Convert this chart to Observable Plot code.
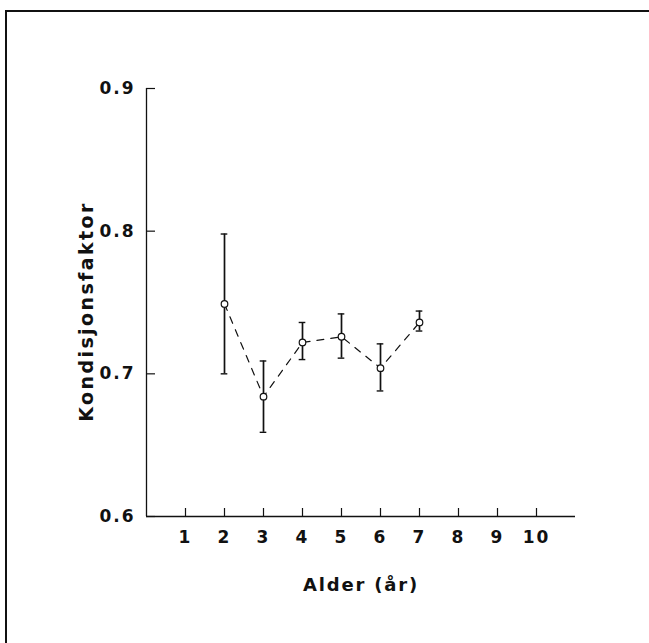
<!DOCTYPE html>
<html>
<head>
<meta charset="utf-8">
<script src="https://cdn.jsdelivr.net/npm/d3@7"></script>
<script src="https://cdn.jsdelivr.net/npm/@observablehq/plot@0.6"></script>
<style>
  html, body { margin: 0; padding: 0; background: #fff; overflow: hidden; }
  body { width: 649px; height: 643px; position: relative; }
  /* page rules on the left and along the top */
  .rule { position: absolute; background: #111; }
  #ruleLeft { left: 5px; top: 10px; width: 2px; height: 640px; }
  #ruleTop  { left: 5px; top: 10px; width: 650px; height: 2px; }
  #chart { position: absolute; left: 0; top: 0; }
</style>
</head>
<body>
<div class="rule" id="ruleLeft"></div>
<div class="rule" id="ruleTop"></div>
<div id="chart"></div>
<script>
// Condition factor by age: mean with error bars
const ages  = [2, 3, 4, 5, 6, 7];
const means = [0.749, 0.684, 0.722, 0.726, 0.704, 0.736];
const lower = [0.700, 0.659, 0.710, 0.711, 0.688, 0.730];
const upper = [0.798, 0.709, 0.736, 0.742, 0.721, 0.744];

const xTicks = [1, 2, 3, 4, 5, 6, 7, 8, 9, 10];
const yTicks = [0.6, 0.7, 0.8, 0.9];
const xLabel = "Alder (år)";
const yLabel = "Kondisjonsfaktor";

const rows = ages.map((age, i) => ({age, mean: means[i], lo: lower[i], hi: upper[i]}));

const W = 649, H = 643;
const mL = 146, mR = 74, mT = 88, mB = 127;
const innerW = W - mL - mR, innerH = H - mT - mB;
const ink = "#111";
const font = "'DejaVu Sans', 'Liberation Sans', sans-serif";
const cap = 0.085; // half width of error-bar caps, in years

const chart = Plot.plot({
  width: W,
  height: H,
  marginLeft: mL,
  marginRight: mR,
  marginTop: mT,
  marginBottom: mB,
  style: {background: "transparent", color: ink, fontFamily: font},
  x: {domain: [0, 11]},
  y: {domain: [0.6, 0.9]},
  marks: [
    // axis lines
    Plot.ruleX([0], {stroke: ink, strokeWidth: 1.3}),
    Plot.ruleY([0.6], {stroke: ink, strokeWidth: 1.3}),
    // inward tick marks
    Plot.tickY(yTicks, {y: d => d, insetRight: innerW - 9, stroke: ink, strokeWidth: 1.2}),
    Plot.tickX(xTicks, {x: d => d, insetTop: innerH - 8, stroke: ink, strokeWidth: 1.2}),
    // tick labels
    Plot.axisY({ticks: yTicks, tickSize: 0, tickPadding: 11, tickFormat: ".1f",
                fontSize: 17, fontWeight: "bold", label: null}),
    Plot.axisX({ticks: xTicks, tickSize: 0, tickPadding: 14, tickFormat: "d",
                fontSize: 17, fontWeight: "bold", label: null}),
    // axis titles
    Plot.text([yLabel], {text: d => d, frameAnchor: "left", textAnchor: "middle", lineAnchor: "middle",
                         dx: -60, dy: 9, rotate: -90, fontSize: 19, fontWeight: "bold", fill: ink}),
    Plot.text([xLabel], {text: d => d, frameAnchor: "bottom", textAnchor: "middle", lineAnchor: "middle",
                         dy: 69, fontSize: 18, fontWeight: "bold", fill: ink}),
    // dashed line through the means
    Plot.line(rows, {x: "age", y: "mean", stroke: ink, strokeWidth: 1.2, strokeDasharray: "7,7"}),
    // error bars
    Plot.ruleX(rows, {x: "age", y1: "lo", y2: "hi", stroke: ink, strokeWidth: 1.7}),
    Plot.ruleY(rows, {y: "lo", x1: d => d.age - cap, x2: d => d.age + cap, stroke: ink, strokeWidth: 1.4}),
    Plot.ruleY(rows, {y: "hi", x1: d => d.age - cap, x2: d => d.age + cap, stroke: ink, strokeWidth: 1.4}),
    // mean markers
    Plot.dot(rows, {x: "age", y: "mean", r: 3.3, fill: "white", stroke: ink, strokeWidth: 1.2})
  ]
});

// widen the lettering a little
chart.querySelectorAll("text").forEach(t => {
  const s = t.textContent;
  t.setAttribute("letter-spacing", s === yLabel ? "2.4" : s === xLabel ? "1.8" : "2");
});

document.getElementById("chart").appendChild(chart);
</script>
</body>
</html>
